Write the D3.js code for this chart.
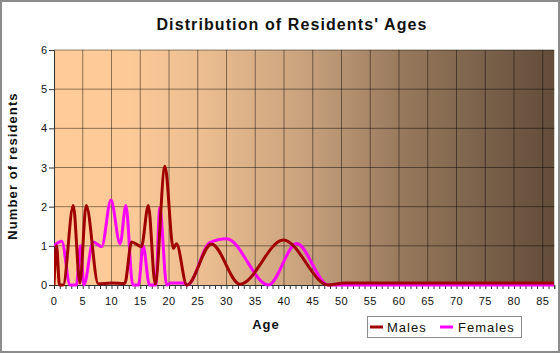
<!DOCTYPE html>
<html lang="en">
<head>
<meta charset="utf-8" />
<title>Distribution of Residents' Ages</title>
<style>
    body { margin: 0; background: #fff; }
    svg { display: block; font-family: "Liberation Sans", Arial, sans-serif; }
</style>
</head>
<body>
<script src="https://cdn.jsdelivr.net/npm/d3@7"></script>
<div id="chart"></div>
<script>
    // knots: age (years) and number of residents
    const maleAges   = [0, 0.45, 0.95, 1.6, 3.35, 4.5, 5.6, 7.7, 10, 12.3, 13.5, 15.2, 16.4, 17.6, 19.3, 20.75, 21.3, 23.1, 27.4, 32.35, 39.9, 47.7, 50.5, 87];
    const maleCounts = [0, 1.0, 0, 0, 2.03, 0.05, 2.03, 0.03, 0.05, 0.04, 1.1, 0.98, 2.03, 0.03, 3.03, 0.93, 1.05, 0, 1.05, 0.02, 1.15, 0, 0.05, 0.05];

    const femaleAges   = [0, 1.35, 2.8, 3.9, 4.6, 5.2, 6.8, 8.3, 9.9, 11.5, 12.5, 13.7, 14.7, 15.5, 16.6, 17.7, 18.4, 19.6, 20.3, 22.5, 23.2, 27.1, 30, 37.3, 42.2, 47.7, 87];
    const femaleCounts = [1.0, 1.12, 0, 0, 1.0, 0, 1.1, 0.98, 2.17, 1.05, 2.03, 0, 0, 1.0, 0, 0, 1.97, 0, 0.05, 0.05, 0, 1.08, 1.18, 0, 1.06, 0, 0];

    const xTicks = [0, 5, 10, 15, 20, 25, 30, 35, 40, 45, 50, 55, 60, 65, 70, 75, 80, 85];
    const yTicks = [0, 1, 2, 3, 4, 5, 6];

    const width = 560, height = 353;
    const plot = {left: 54, right: 554.25, top: 50, bottom: 285};

    const svg = d3.select("#chart")
        .append("svg")
        .attr("width", width)
        .attr("height", height);

    // frame round the whole picture
    svg.append("rect")
        .attr("x", 1).attr("y", 1)
        .attr("width", width - 2).attr("height", height - 2)
        .attr("fill", "#fff")
        .attr("stroke", "#8c8c8c")
        .attr("stroke-width", 2);

    const x = d3.scaleLinear().domain([0, 87]).range([plot.left, plot.right]);
    const y = d3.scaleLinear().domain([0, 6]).range([plot.bottom, plot.top]);

    const defs = svg.append("defs");
    const grad = defs.append("linearGradient")
        .attr("id", "bg")
        .attr("x1", "0%").attr("x2", "100%")
        .attr("y1", "0%").attr("y2", "0%");
    [["0%", "#ffcc99"], ["15%", "#fcc997"], ["30%", "#ebbd90"], ["50%", "#c9a27d"],
     ["70%", "#96785c"], ["100%", "#624d3a"]].forEach(s => {
        grad.append("stop").attr("offset", s[0]).attr("stop-color", s[1]);
    });
    defs.append("clipPath").attr("id", "clip")
        .append("rect")
        .attr("x", plot.left).attr("y", plot.top - 2)
        .attr("width", plot.right - plot.left)
        .attr("height", plot.bottom - plot.top + 4);

    svg.append("rect")
        .attr("x", plot.left).attr("y", plot.top)
        .attr("width", plot.right - plot.left)
        .attr("height", plot.bottom - plot.top)
        .attr("fill", "url(#bg)");

    // grid
    svg.append("g")
        .selectAll("line")
        .data(xTicks.filter(d => d > 0))
        .join("line")
        .attr("x1", d => x(d)).attr("x2", d => x(d))
        .attr("y1", plot.top).attr("y2", plot.bottom)
        .attr("stroke", "#000").attr("stroke-opacity", 0.45);
    svg.append("g")
        .selectAll("line")
        .data(yTicks.filter(d => d > 0))
        .join("line")
        .attr("x1", plot.left).attr("x2", plot.right)
        .attr("y1", d => y(d)).attr("y2", d => y(d))
        .attr("stroke", "#000").attr("stroke-opacity", 0.45);

    // axes
    const xAxis = svg.append("g")
        .attr("transform", `translate(0,${plot.bottom})`)
        .call(d3.axisBottom(x).tickValues(d3.range(0, 88)).tickSize(4).tickFormat(""));
    xAxis.select(".domain").attr("stroke", "#333");
    xAxis.selectAll(".tick line").attr("stroke", "#333");

    svg.append("g")
        .selectAll("text")
        .data(xTicks)
        .join("text")
        .attr("x", d => x(d))
        .attr("y", 305)
        .attr("text-anchor", "middle")
        .style("font-size", "11px")
        .style("letter-spacing", "0.5px")
        .attr("fill", "#111")
        .text(d => d);

    const yAxis = svg.append("g")
        .attr("transform", `translate(${plot.left},0)`)
        .call(d3.axisLeft(y).tickValues(yTicks).tickFormat(d3.format("d")).tickSize(5).tickPadding(2));
    yAxis.select(".domain").attr("stroke", "#333");
    yAxis.selectAll(".tick line").attr("stroke", "#333");
    yAxis.selectAll(".tick text")
        .style("font-size", "11px")
        .style("font-family", "Liberation Sans, Arial, sans-serif")
        .attr("fill", "#111");

    // series
    const line = d3.line()
        .x(d => x(d[0]))
        .y(d => y(d[1]))
        .curve(d3.curveMonotoneX);

    const lines = svg.append("g").attr("clip-path", "url(#clip)");
    lines.append("path")
        .datum(d3.zip(femaleAges, femaleCounts))
        .attr("d", line)
        .attr("fill", "none")
        .attr("stroke", "#ff00ff")
        .attr("stroke-width", 3)
        .attr("stroke-linejoin", "round");
    lines.append("path")
        .datum(d3.zip(maleAges, maleCounts))
        .attr("d", line)
        .attr("fill", "none")
        .attr("stroke", "#a00000")
        .attr("stroke-width", 3)
        .attr("stroke-linejoin", "round");

    // titles
    svg.append("text")
        .attr("x", 292).attr("y", 30)
        .attr("text-anchor", "middle")
        .style("font-size", "16px")
        .style("font-weight", "bold")
        .style("letter-spacing", "1.1px")
        .attr("fill", "#111")
        .text("Distribution of Residents' Ages");

    svg.append("text")
        .attr("transform", "translate(17,166) rotate(-90)")
        .attr("text-anchor", "middle")
        .style("font-size", "13px")
        .style("font-weight", "bold")
        .style("letter-spacing", "1.1px")
        .attr("fill", "#111")
        .text("Number of residents");

    svg.append("text")
        .attr("x", 266).attr("y", 329)
        .attr("text-anchor", "middle")
        .style("font-size", "13px")
        .style("font-weight", "bold")
        .style("letter-spacing", "1px")
        .attr("fill", "#111")
        .text("Age");

    // legend
    const legend = svg.append("g");
    legend.append("rect")
        .attr("x", 367.5).attr("y", 316.5)
        .attr("width", 154).attr("height", 21)
        .attr("fill", "none")
        .attr("stroke", "#8c8c8c");
    const items = [["Males", "#a00000", 370, 387], ["Females", "#ff00ff", 440, 458]];
    items.forEach(it => {
        legend.append("line")
            .attr("x1", it[2]).attr("x2", it[2] + 13)
            .attr("y1", 327).attr("y2", 327)
            .attr("stroke", it[1]).attr("stroke-width", 3);
        legend.append("text")
            .attr("x", it[3]).attr("y", 332)
            .style("font-size", "13px")
            .style("letter-spacing", "1px")
            .attr("fill", "#111")
            .text(it[0]);
    });
</script>
</body>
</html>
